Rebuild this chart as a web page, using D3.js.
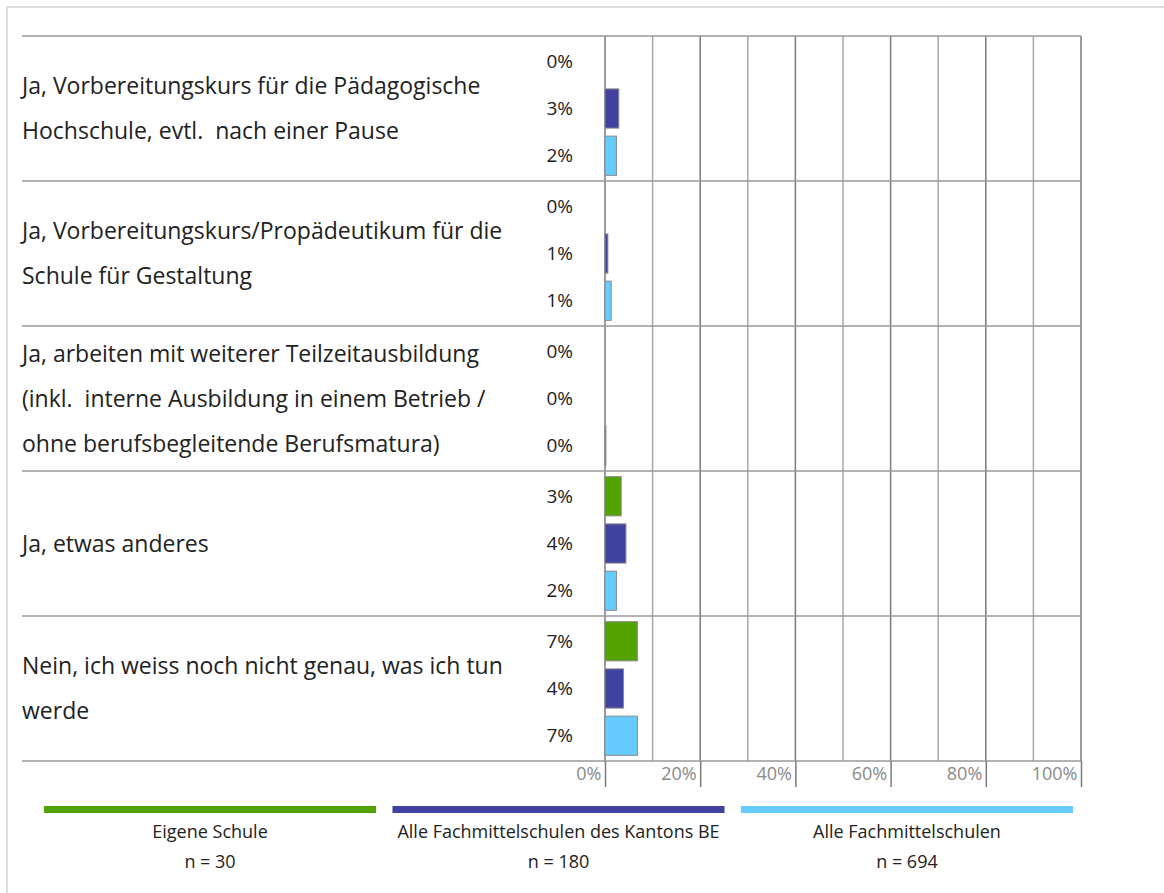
<!DOCTYPE html>
<html>
<head>
<meta charset="utf-8">
<script src="https://cdn.jsdelivr.net/npm/d3@7"></script>
<style>
  html, body { margin: 0; padding: 0; background: #fff; }
  svg { display: block; font-family: "Open Sans", Roboto, sans-serif; }
  text { white-space: pre; }
</style>
</head>
<body>
<svg id="chart" width="1164" height="893"></svg>
<script>
// Answer categories (each line of a label is drawn separately)
const categories = [
  ["Ja, Vorbereitungskurs für die Pädagogische", "Hochschule, evtl.  nach einer Pause"],
  ["Ja, Vorbereitungskurs/Propädeutikum für die", "Schule für Gestaltung"],
  ["Ja, arbeiten mit weiterer Teilzeitausbildung", "(inkl.  interne Ausbildung in einem Betrieb /", "ohne berufsbegleitende Berufsmatura)"],
  ["Ja, etwas anderes"],
  ["Nein, ich weiss noch nicht genau, was ich tun", "werde"]
];

// Series: share of answers in percent, one value per category
const seriesNames = ["Eigene Schule", "Alle Fachmittelschulen des Kantons BE", "Alle Fachmittelschulen"];
const seriesN = ["n = 30", "n = 180", "n = 694"];
const eigeneSchule = [0, 0, 0, 3.4, 6.8];
const kantonBE = [2.9, 0.6, 0, 4.4, 3.9];
const alleFMS = [2.4, 1.3, 0.2, 2.4, 6.8];
const seriesColors = ["#52a300", "#4141a1", "#66ccff"];

const xTicks = [0, 20, 40, 60, 80, 100];
const xGrid = [0, 10, 20, 30, 40, 50, 60, 70, 80, 90, 100];

const series = [eigeneSchule, kantonBE, alleFMS];

const svg = d3.select("#chart");

// Outer frame (top and left edges)
svg.append("line").attr("x1", 7).attr("x2", 1164).attr("y1", 7).attr("y2", 7)
  .attr("stroke", "#dcdcdc").attr("stroke-width", 2);
svg.append("line").attr("x1", 7).attr("x2", 7).attr("y1", 7).attr("y2", 893)
  .attr("stroke", "#dcdcdc").attr("stroke-width", 2);

const mLeft = 22, plotLeft = 605, plotRight = 1081, mTop = 36, mBottom = 761;

const x = d3.scaleLinear().domain([0, 100]).range([plotLeft, plotRight]);
const yGroup = d3.scaleBand().domain(d3.range(categories.length)).range([mTop, mBottom]);
const yInner = d3.scaleBand().domain(d3.range(series.length))
  .range([0, yGroup.bandwidth()]).paddingInner(0.17).paddingOuter(0.12);

// Vertical grid lines
svg.append("g").selectAll("line").data(xGrid).join("line")
  .attr("x1", d => x(d)).attr("x2", d => x(d))
  .attr("y1", mTop).attr("y2", mBottom)
  .attr("stroke", d => d % 20 === 0 ? "#7a7a7a" : "#a8a8a8")
  .attr("stroke-width", 1.5);

// Horizontal row separators
svg.append("g").selectAll("line").data(d3.range(categories.length + 1)).join("line")
  .attr("x1", mLeft).attr("x2", plotRight)
  .attr("y1", i => i < categories.length ? yGroup(i) : mBottom)
  .attr("y2", i => i < categories.length ? yGroup(i) : mBottom)
  .attr("stroke", "#9a9a9a").attr("stroke-width", 1.5);

// Bars and their value labels
const groups = svg.append("g").selectAll("g").data(categories).join("g")
  .attr("transform", (d, i) => `translate(0,${yGroup(i)})`);

groups.each(function (cat, ci) {
  const g = d3.select(this);
  series.forEach((vals, si) => {
    const v = vals[ci];
    const yb = yInner(si);
    if (v > 0) {
      g.append("rect")
        .attr("x", x(0)).attr("y", yb)
        .attr("width", x(v) - x(0)).attr("height", yInner.bandwidth())
        .attr("fill", seriesColors[si])
        .attr("stroke", "#8a8a8a").attr("stroke-width", 1);
    }
    g.append("text")
      .attr("x", 573).attr("y", yb + yInner.bandwidth() / 2)
      .attr("dy", "0.35em").attr("text-anchor", "end")
      .attr("font-size", 19).attr("fill", "#222")
      .text(d3.format(".0f")(v) + "%");
  });
  // Category label lines, spaced like the bar rows
  const n = cat.length;
  const lineH = 45;
  const mid = yGroup.bandwidth() / 2;
  cat.forEach((line, li) => {
    g.append("text")
      .attr("x", mLeft).attr("y", mid + (li - (n - 1) / 2) * lineH)
      .attr("dy", "0.35em")
      .attr("font-size", 23).attr("fill", "#222")
      .text(line);
  });
});

// Axis with percentage ticks below the plot
const axis = d3.axisBottom(x).tickValues(xTicks).tickSize(26).tickFormat(d => d + "%");
const ax = svg.append("g").attr("transform", `translate(0,${mBottom})`).call(axis);
ax.select(".domain").remove();
ax.selectAll(".tick line").attr("stroke", "#7a7a7a").attr("stroke-width", 1.5);
ax.selectAll(".tick text")
  .attr("x", -4).attr("y", 13).attr("dy", "0.35em")
  .attr("text-anchor", "end")
  .attr("font-size", 18).attr("fill", "#8a8a8a")
  .attr("font-family", "\"Open Sans\", sans-serif");

// Legend
const legendX = d3.scaleBand().domain(d3.range(series.length)).range([44, 1073]).paddingInner(0.047);
const legend = svg.append("g").selectAll("g").data(seriesNames).join("g")
  .attr("transform", (d, i) => `translate(${legendX(i)},0)`);
legend.append("rect")
  .attr("x", 0).attr("y", 806).attr("width", legendX.bandwidth()).attr("height", 7)
  .attr("fill", (d, i) => seriesColors[i]);
legend.append("text")
  .attr("x", legendX.bandwidth() / 2).attr("y", 832).attr("dy", "0.35em")
  .attr("text-anchor", "middle").attr("font-size", 18).attr("fill", "#222")
  .text(d => d);
legend.append("text")
  .attr("x", legendX.bandwidth() / 2).attr("y", 862).attr("dy", "0.35em")
  .attr("text-anchor", "middle").attr("font-size", 18).attr("fill", "#222")
  .text((d, i) => seriesN[i]);
</script>
</body>
</html>
